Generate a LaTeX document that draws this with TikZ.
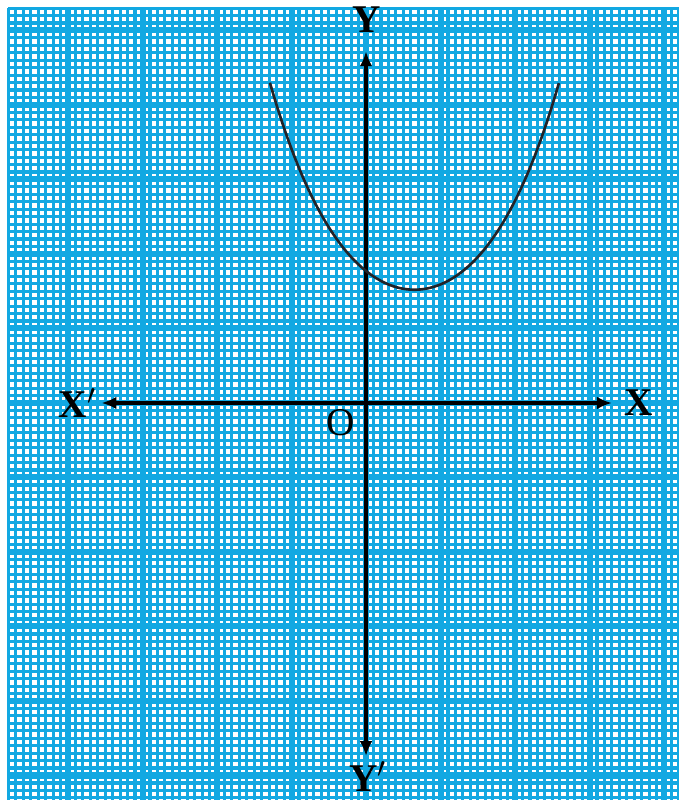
\documentclass[tikz,border=0pt]{standalone}
\usepackage{fontspec}
\setmainfont{Liberation Serif}
\definecolor{GridBlue} {RGB}{18,168,226}
\definecolor{CurveDark}{RGB}{35,35,40}
\usetikzlibrary{arrows.meta}

\begin{document}
\begin{tikzpicture}[
    minorgrid/.style={GridBlue,line width=1.2pt},
    majorgrid/.style={GridBlue,line width=2.3pt},
    axisline/.style={line width=1.3pt,
      {Latex[length=2mm,width=1.7mm]}-{Latex[length=2mm,width=1.7mm]}},
    axislabel/.style={font=\fontsize{15}{18}\selectfont\bfseries,inner sep=0pt},
  ]
  \useasboundingbox (-4.913,-5.329) rectangle (4.188,5.409);
  \fill[white] (-4.913,-5.329) rectangle (4.188,5.409);
  %% graph paper (fine squares, heavier line every tenth)
  \draw[minorgrid,step=0.1] (-4.801,-5.5) grid (4.3,5.301);
  \draw[majorgrid,step=1]   (-4.801,-5.5) grid (4.3,5.301);
  %% axes
  \coordinate (xneg) at (-3.55,0);
  \coordinate (xpos) at (3.30,0);
  \coordinate (yneg) at (0,-4.74);
  \coordinate (ypos) at (0,4.72);
  \draw[axisline] (xneg) -- (xpos);
  \draw[axisline] (yneg) -- (ypos);
  \node[axislabel] (xlab)  at (3.66,0)     {X};
  \node[axislabel] (xplab) at (-3.87,0)    {X$'$};
  \node[axislabel] (ylab)  at (0.01,5.14)  {Y};
  \node[axislabel] (yplab) at (0.03,-5.01) {Y$'$};
  \node[font=\fontsize{15}{18}\selectfont,inner sep=0pt] (olab)
       at (-0.335,-0.27) {O};
  %% the curve, lowest point a little right of the y-axis
  \draw[CurveDark,line width=1pt,domain=-1.29:2.59,samples=120]
       plot(\x,{1.52+0.578*(\x-0.65)*(\x-0.65)
                +0.0426*(\x-0.65)*(\x-0.65)*(\x-0.65)*(\x-0.65)});
\end{tikzpicture}
\end{document}
